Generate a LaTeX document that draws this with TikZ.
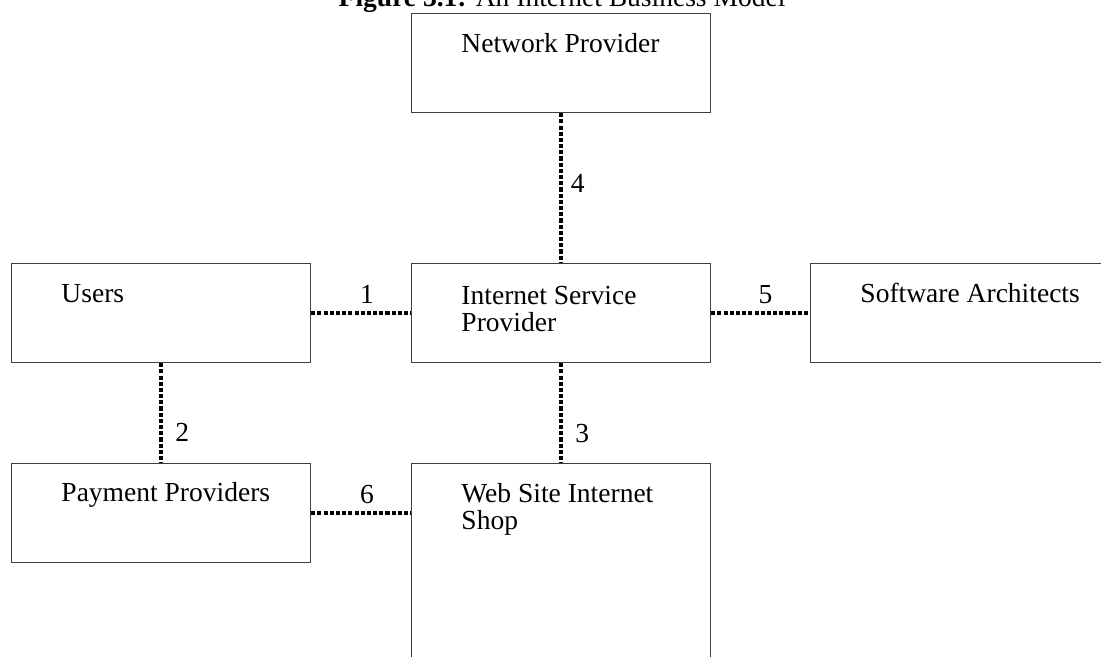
\documentclass[tikz,border=0pt]{standalone}
\usepackage{fontspec}
\setmainfont{Liberation Serif}
\usetikzlibrary{calc,positioning}

\tikzset{
  box/.style={draw=black!75, line width=0.5pt, anchor=north west, inner sep=0pt,
    minimum width=2.99*43.6pt, minimum height=0.99*43.6pt},
  boxtext/.style={anchor=base west, align=left, inner sep=0pt, font=\fontsize{12}{12}\selectfont},
  link/.style={line width=1.8pt, dash pattern=on 1.8pt off 0.9pt},
  num/.style={font=\fontsize{12}{12}\selectfont}
}

\begin{document}
\begin{tikzpicture}[x=43.6pt, y=43.6pt]
\useasboundingbox (0,0) rectangle (11.01,6.57);
\clip (0,0) rectangle (11.01,6.57);

% Boxes
\node[box] (np) at (4.11,6.44) {};
\node[box] (users) at (0.11,3.94) {};
\node[box] (isp) at (4.11,3.94) {};
\node[box] (sa) at (8.10,3.94) {};
\node[box] (pay) at (0.11,1.94) {};
\node[box, minimum height=2.5*43.6pt] (shop) at (4.11,1.94) {};

% Box texts (two-line ones sit on their last line)
\node[boxtext] (nptext) at ($(np.north west)+(0.5,-0.40)$) {Network Provider};
\node[boxtext] (userstext) at ($(users.north west)+(0.5,-0.40)$) {Users};
\node[boxtext] (isptext) at ($(isp.north west)+(0.5,-0.69)$) {Internet Service\\Provider};
\node[boxtext] (satext) at ($(sa.north west)+(0.5,-0.40)$) {Software Architects};
\node[boxtext] (paytext) at ($(pay.north west)+(0.5,-0.39)$) {Payment Providers};
\node[boxtext] (shoptext) at ($(shop.north west)+(0.5,-0.67)$) {Web Site Internet\\Shop};

% Title
\node[num, anchor=base] (title) at ($(np.north)+(0.01,0.06)$) {\textbf{Figure 3.1:} An Internet Business Model};

% Links
\draw[link] (users.east) -- node[num, above, pos=0.56] (l1) {1} (isp.west);
\draw[link] (users.south) -- node[num, right=2pt, pos=0.69] (l2) {2} (pay.north);
\draw[link] (isp.south) -- node[num, right=2pt, pos=0.70] (l3) {3} (shop.north);
\draw[link] (np.south) -- node[num, right, pos=0.47] (l4) {4} (isp.north);
\draw[link] (isp.east) -- node[num, above, pos=0.55] (l5) {5} (sa.west);
\draw[link] (pay.east) -- node[num, above, pos=0.56] (l6) {6} (pay.east -| shop.west);

\end{tikzpicture}
\end{document}
